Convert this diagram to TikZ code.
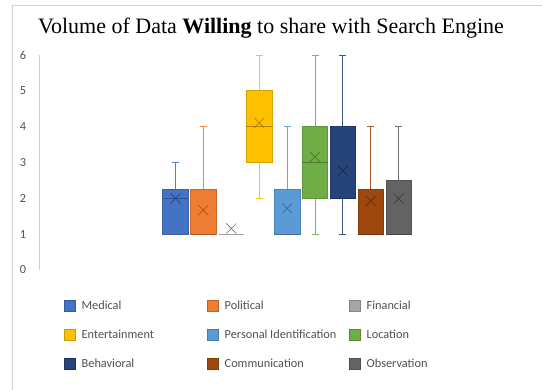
\documentclass[tikz,border=0pt]{standalone}
\usepackage{fontspec}
\setmainfont{Liberation Serif}
\newfontfamily\chartfont{Carlito}
\definecolor{medical}{HTML}{4472C4}
\definecolor{political}{HTML}{ED7D31}
\definecolor{financial}{HTML}{A5A5A5}
\definecolor{entertainment}{HTML}{FFC000}
\definecolor{personal}{HTML}{5B9BD5}
\definecolor{location}{HTML}{70AD47}
\definecolor{behavioral}{HTML}{264478}
\definecolor{communication}{HTML}{9E480E}
\definecolor{observation}{HTML}{636363}
\definecolor{axisgray}{HTML}{505050}
\definecolor{framegray}{HTML}{D0D0D0}
\tikzset{
  tick label/.style={font=\chartfont\fontsize{12.3}{14}\selectfont, text=axisgray},
  legend label/.style={font=\chartfont\fontsize{12.3}{14}\selectfont, text=axisgray, anchor=west, inner sep=0pt},
  legend key/.style={minimum size=11pt, inner sep=0pt, draw=#1!80!black, fill=#1},
}
\begin{document}
\begin{tikzpicture}[x=1pt, y=1pt]
  \useasboundingbox (0,0) rectangle (542,390);
  \draw[framegray] (12,0) -- (12,385) -- (542,385);
  \node (title) at (271,362) {\fontsize{22}{26}\selectfont Volume of Data \textbf{Willing} to share with Search Engine};

  \begin{scope}[shift={(0,120)}, y=35.83pt]
    \draw[framegray] (39,0) -- (39,6);
    \foreach \v in {0,...,6}
      \node[tick label] (tick\v) at (23,\v) {\v};

    \foreach \x/\c/\lo/\qa/\md/\qb/\hi/\mn in {
        175.5/medical/1/1/2/2.25/3/2,
        203.4/political/1/1/1/2.25/4/1.67,
        259.2/entertainment/2/3/4/5/6/4.11,
        287.1/personal/1/1/1/2.25/4/1.72,
        315.0/location/1/2/3/4/6/3.16,
        342.9/behavioral/1/2/2/4/6/2.77,
        370.8/communication/1/1/1/2.25/4/1.93,
        398.7/observation/1/1/1/2.5/4/1.99} {
      \draw[\c!90!white, line width=.9pt] (\x,\lo) -- (\x,\qa) (\x,\qb) -- (\x,\hi);
      \draw[\c!90!white, line width=.9pt] (\x-3.5,\lo) -- (\x+3.5,\lo) (\x-3.5,\hi) -- (\x+3.5,\hi);
      \draw[fill=\c, draw=\c!85!black, line width=.8pt] (\x-12.8,\qa) rectangle (\x+12.8,\qb);
      \draw[\c!70!black, line width=.6pt] (\x-12.8,\md) -- (\x+12.8,\md);
      \draw[\c!60!black, line width=.6pt] (\x,\mn) +(-5pt,-5pt) -- +(5pt,5pt) +(-5pt,5pt) -- +(5pt,-5pt);
    }
    \draw[financial, line width=1pt] (218.5,1) -- (244.1,1);
    \draw[financial!70!black, line width=.6pt] (231.3,1.16) +(-5pt,-5pt) -- +(5pt,5pt) +(-5pt,5pt) -- +(5pt,-5pt);
  \end{scope}

  \foreach \name/\c/\lx/\ly in {
      Medical/medical/64/84.3, Political/political/207/84.3, Financial/financial/349/84.3,
      Entertainment/entertainment/64/55.7, Personal Identification/personal/207/55.7, Location/location/349/55.7,
      Behavioral/behavioral/64/26.7, Communication/communication/207/26.7, Observation/observation/349/26.7} {
    \node[legend key=\c] (key\c) at (\lx+6,\ly) {};
    \node[legend label] (label\c) at (\lx+17.5,\ly) {\name};
  }
\end{tikzpicture}
\end{document}
